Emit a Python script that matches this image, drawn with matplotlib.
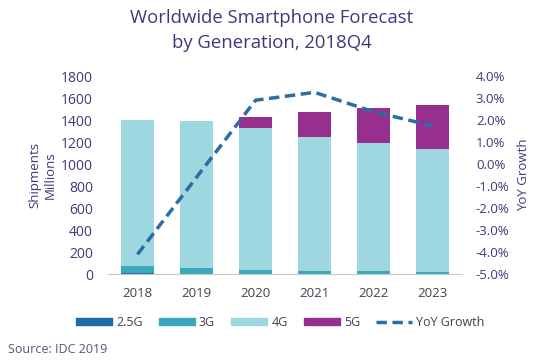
import matplotlib
matplotlib.use("Agg")
import matplotlib.pyplot as plt
from matplotlib.lines import Line2D
from matplotlib.patches import Patch

years = ["2018", "2019", "2020", "2021", "2022", "2023"]
g25 = [6, 4, 3, 2, 2, 2]
g3 = [67, 51, 33, 26, 24, 20]
g4 = [1327, 1334, 1288, 1215, 1168, 1112]
g5 = [0, 5, 106, 233, 318, 402]
yoy = [-4.1, -0.6, 2.9, 3.26, 2.38, 1.74]

plt.rcParams['font.family'] = ['Open Sans', 'DejaVu Sans']
txt = '#3d3a7c'
c25, c3, c4, c5, cl = '#1f6aa5', '#3aa9be', '#9fd7e0', '#962f8e', '#2a6ea6'

fig = plt.figure(figsize=(5.54, 3.64), dpi=100)
ax = fig.add_axes([0.195, 0.247, 0.639, 0.544])
x = list(range(len(years)))
w = 0.57
b1 = g25
b2 = [a + b for a, b in zip(b1, g3)]
b3 = [a + b for a, b in zip(b2, g4)]
ax.bar(x, g25, w, color=c25)
ax.bar(x, g3, w, bottom=b1, color=c3)
ax.bar(x, g4, w, bottom=b2, color=c4)
ax.bar(x, g5, w, bottom=b3, color=c5)
ax.set_xlim(-0.5, 5.5)
ax.set_ylim(0, 1800)
ax.set_yticks(range(0, 1801, 200))
ax.set_xticks(x)
ax.set_xticklabels(years)
for s in ['top', 'right', 'left']:
    ax.spines[s].set_visible(False)
ax.spines['bottom'].set_color('#c8c8c8')
ax.tick_params(axis='y', length=0, labelsize=10, colors=txt, pad=11)
ax.tick_params(axis='x', length=0, labelsize=9.5, colors='#404050', pad=9)
ax.set_ylabel("Shipments\nMillions", color=txt, fontsize=9.5, labelpad=3)

ax2 = ax.twinx()
ax2.plot(x, yoy, color=cl, lw=2.5, ls=(0, (3, 1.6)))
ax2.set_ylim(-5, 4)
ax2.set_yticks(range(-5, 5))
ax2.set_yticklabels([f"{v:.1f}%" for v in range(-5, 5)])
for s in ['top', 'right', 'left', 'bottom']:
    ax2.spines[s].set_visible(False)
ax2.tick_params(axis='y', length=0, labelsize=9.5, colors=txt, pad=10)
ax2.set_ylabel("YoY Growth", color=txt, fontsize=9.5, labelpad=5)

fig.text(0.49, 0.916, "Worldwide Smartphone Forecast\nby Generation, 2018Q4",
         ha='center', va='center', fontsize=13.3, color=txt, linespacing=1.45)

handles = [Patch(color=c25), Patch(color=c3), Patch(color=c4), Patch(color=c5),
           Line2D([0], [0], color=cl, lw=2.5, ls=(0, (3, 1.6)))]
labels = ["2.5G", "3G", "4G", "5G", "YoY Growth"]
fig.legend(handles, labels, loc='center', bbox_to_anchor=(0.506, 0.115), ncol=5,
           frameon=False, fontsize=9, handlelength=2.9, handleheight=0.5,
           columnspacing=1.3, handletextpad=0.3, labelcolor='#404050')
fig.text(0.015, 0.04, "Source: IDC 2019", fontsize=9, color='#505a78', va='center')

fig.savefig("out.png", dpi=100, facecolor='white')
